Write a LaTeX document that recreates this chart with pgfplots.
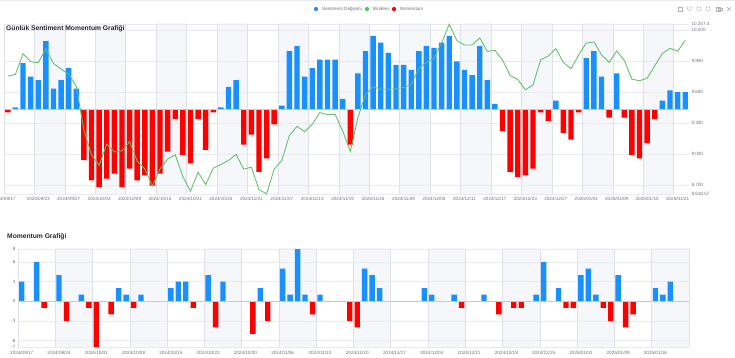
\documentclass[border=0pt]{standalone}
\usepackage{fontspec}
\setmainfont{Liberation Sans}
\usepackage{pgfplots}
\pgfplotsset{compat=1.18}
\definecolor{sblue}{HTML}{1890FF}
\definecolor{sred}{HTML}{FF0000}
\definecolor{sgreen}{HTML}{5FBF6A}
\definecolor{gridc}{HTML}{E8EAF0}
\definecolor{vgrid}{HTML}{DFE1E8}
\definecolor{band}{HTML}{F5F7FB}
\definecolor{tickc}{HTML}{6E7079}
\definecolor{axisc}{HTML}{C8CAD0}
\pgfplotsset{
  base/.style={scale only axis, clip=true, axis line style={draw=none}, tick style={draw=none},
    scaled y ticks=false,
    /pgf/number format/assume math mode=true,
    tick label style={font=\fontsize{4.6}{5}\selectfont, text=tickc}},
  sbar/.style={ybar, bar shift=0pt, bar width=5.4pt, draw=none, fill=#1},
}
\begin{document}
\begin{tikzpicture}
\path[use as bounding box] (0,0) rectangle (735pt,357pt);
\draw[gridc, line width=0.6pt] (0,356.7pt) -- (735pt,356.7pt);
% ---------- top chart: bands
\begin{axis}[base, at={(4pt,163pt)}, width=685pt, height=170pt, xmin=-0.5, xmax=89.5, ymin=-50, ymax=50, hide axis]
\addplot[ybar interval, fill=band, draw=none] coordinates {
(3.5,100)(7.5,0)(11.5,100)(15.5,0)(19.5,100)(23.5,0)(27.5,100)(31.5,0)(35.5,100)(39.5,0)(43.5,100)(47.5,0)(51.5,100)(55.5,0)(59.5,100)(63.5,0)(67.5,100)(71.5,0)(75.5,100)(79.5,0)(83.5,100)(87.5,0)(89.5,0)};
\addplot[ybar interval, fill=band, draw=none] coordinates {
(3.5,-100)(7.5,0)(11.5,-100)(15.5,0)(19.5,-100)(23.5,0)(27.5,-100)(31.5,0)(35.5,-100)(39.5,0)(43.5,-100)(47.5,0)(51.5,-100)(55.5,0)(59.5,-100)(63.5,0)(67.5,-100)(71.5,0)(75.5,-100)(79.5,0)(83.5,-100)(87.5,0)(89.5,0)};
\end{axis}
% ---------- top chart: index axis (right)
\begin{axis}[base, at={(4pt,163pt)}, width=685pt, height=170pt, xmin=-0.5, xmax=89.5, ymin=8618.57, ymax=10257.3,
  axis y line*=right, axis x line=none,
  ytick={8618.57,8700,9000,9300,9600,9900,10200,10257.3},
  yticklabels={{8,618.57},{8,700},{9,000},{9,300},{9,600},{9,900},{10,200},{10,257.3}},
  ymajorgrids, grid style={gridc, line width=0.5pt},
  yticklabel style={anchor=west, xshift=-1pt}]
\addplot[draw=none, forget plot] coordinates {(0,9000)};
\end{axis}
% ---------- top chart: sentiment bars
\begin{axis}[base, at={(4pt,163pt)}, width=685pt, height=170pt, xmin=-0.5, xmax=89.5, ymin=-50, ymax=50,
  axis y line=none, axis x line*=bottom,
  ytick={-40,-20,0,20,40}, ymajorgrids, grid style={gridc, line width=0.5pt},
  xtick={0,4,...,88},
  xticklabels={4/09/17,2024/09/23,2024/09/27,2024/10/03,2024/10/09,2024/10/15,2024/10/21,2024/10/25,2024/11/01,2024/11/07,2024/11/13,2024/11/19,2024/11/25,2024/11/29,2024/12/05,2024/12/11,2024/12/17,2024/12/23,2024/12/27,2025/01/03,2025/01/09,2025/01/15,2025/01/21},
  extra x ticks={-0.5,3.5,7.5,...,87.5},
  extra x tick labels={},
  extra x tick style={xmajorgrids, grid style={vgrid, line width=0.6pt}},
  xticklabel style={yshift=0pt}]
\addplot[sbar=sblue] coordinates {(1,1)(2,27)(3,19)(4,17)(5,40)(6,12)(7,17)(8,24)(9,12)
(28,1)(29,13)(30,17)(36,2)(37,34)(38,37)(39,19)(40,24)(41,29)(42,29)(43,29)(44,6)
(46,21)(47,34)(48,43)(49,39)(50,33)(51,26)(52,26)(53,23)(54,34)(55,37)(56,36)(57,39)(58,43)(59,28)(60,23)(61,20)(62,37)(63,17)(64,3)
(72,5)(76,30)(77,34)(78,19)(80,21)(86,5)(87,11)(88,10)(89,10)};
\addplot[sbar=sred] coordinates {(0,-2)(10,-30)(11,-42)(12,-46)(13,-41)(14,-38)(15,-46)(16,-35)(17,-42)(18,-39)(19,-45)(20,-38)(21,-25)(22,-6)(23,-27)(24,-32)(25,-6)(26,-24)(27,-2)
(31,-21)(32,-15)(33,-37)(34,-29)(35,-9)(45,-21)
(65,-13)(66,-37)(67,-40)(68,-39)(69,-35)(70,-2)(71,-7)(73,-14)(74,-18)(75,-2)(79,-5)(81,-5)(82,-27)(83,-29)(84,-20)(85,-6)};
\draw[axisc, line width=0.6pt] (axis cs:-0.5,0) -- (axis cs:89.5,0);
\end{axis}
% ---------- top chart: index line
\begin{axis}[base, at={(4pt,163pt)}, width=685pt, height=170pt, xmin=-0.5, xmax=89.5, ymin=8618.57, ymax=10257.3, hide axis, clip=false]
\addplot[sgreen, line width=0.85pt] coordinates {
(0,9755)(1,9771)(2,9971)(3,9894)(4,9884)(5,10019)(6,9877)(7,9823)(8,9774)(9,9658)
(10,9232)(11,8997)(12,8894)(13,9100)(14,9023)(15,9035)(16,9123)(17,8935)(18,8861)(19,8697)
(20,8861)(21,8955)(22,8997)(23,8787)(24,8645)(25,8829)(26,8710)(27,8868)(28,8903)(29,8942)
(30,9000)(31,8858)(32,8877)(33,8661)(34,8620)(35,8858)(36,8942)(37,9184)(38,9271)(39,9219)
(40,9290)(41,9403)(42,9384)(43,9387)(44,9226)(45,9029)(46,9355)(47,9577)(48,9652)(49,9629)
(50,9629)(51,9632)(52,9645)(53,9671)(54,9829)(55,9887)(56,9926)(57,10077)(58,10255)(59,10097)
(60,10055)(61,10055)(62,10123)(63,9994)(64,10003)(65,9910)(66,9761)(67,9723)(68,9623)(69,9668)
(70,9913)(71,9948)(72,10019)(73,9887)(74,9826)(75,9958)(76,10074)(77,10084)(78,9961)(79,9887)
(80,9997)(81,9906)(82,9726)(83,9710)(84,9735)(85,9855)(86,9974)(87,10023)(88,9994)(89,10100)};
\end{axis}
% ---------- bottom chart: bands
\begin{axis}[base, at={(18pt,10pt)}, width=671pt, height=98pt, xmin=-0.5, xmax=89.5, ymin=-7, ymax=8, hide axis]
\addplot[ybar interval, fill=band, draw=none] coordinates {
(4.5,100)(9.5,0)(14.5,100)(19.5,0)(24.5,100)(29.5,0)(34.5,100)(39.5,0)(44.5,100)(49.5,0)(54.5,100)(59.5,0)(64.5,100)(69.5,0)(74.5,100)(79.5,0)(84.5,100)(89.5,0)};
\addplot[ybar interval, fill=band, draw=none] coordinates {
(4.5,-100)(9.5,0)(14.5,-100)(19.5,0)(24.5,-100)(29.5,0)(34.5,-100)(39.5,0)(44.5,-100)(49.5,0)(54.5,-100)(59.5,0)(64.5,-100)(69.5,0)(74.5,-100)(79.5,0)(84.5,-100)(89.5,0)};
\end{axis}
% ---------- bottom chart: bars
\begin{axis}[base, at={(18pt,10pt)}, width=671pt, height=98pt, xmin=-0.5, xmax=89.5, ymin=-7, ymax=8,
  axis y line*=left, axis x line*=bottom,
  ytick={-7,-6,-3,0,3,6,8}, ymajorgrids, grid style={gridc, line width=0.5pt},
  yticklabel style={xshift=1pt},
  xtick={0,5,...,85},
  xticklabels={2024/09/17,2024/09/24,2024/10/01,2024/10/08,2024/10/15,2024/10/22,2024/10/30,2024/11/06,2024/11/13,2024/11/20,2024/11/27,2024/12/04,2024/12/11,2024/12/18,2024/12/25,2025/01/02,2025/01/09,2025/01/16},
  extra x ticks={-0.5,4.5,9.5,...,89.5},
  extra x tick labels={},
  extra x tick style={xmajorgrids, grid style={vgrid, line width=0.6pt}},
  xticklabel style={yshift=-1pt}]
\addplot[sbar=sblue] coordinates {(0,3)(2,6)(5,4)(8,1)(13,2)(14,1)(16,1)(20,2)(21,3)(22,3)(25,4)(27,3)(32,2)(35,5)(36,1)(37,8)(38,1)(40,1)(46,5)(47,4)(48,2)(54,2)(55,1)(58,1)(62,1)(69,1)(70,6)(72,2)(75,4)(76,5)(77,1)(80,4)(85,2)(86,1)(87,3)};
\addplot[sbar=sred] coordinates {(3,-1)(6,-3)(9,-1)(10,-7)(12,-2)(15,-1)(23,-1)(26,-4)(31,-5)(33,-3)(39,-2)(44,-3)(45,-4)(59,-1)(64,-2)(66,-1)(67,-1)(73,-1)(74,-1)(78,-1)(79,-3)(81,-4)(82,-2)};
\draw[axisc, line width=0.6pt] (axis cs:-0.5,0) -- (axis cs:89.5,0);
\end{axis}
% ---------- titles
\node[anchor=west, inner sep=0pt, text=black!85, font=\fontsize{6.7}{8}\bfseries\selectfont] at (6pt,328pt) {Günlük Sentiment Momentum Grafiği};
\node[anchor=west, inner sep=0pt, text=black!85, font=\fontsize{6.7}{8}\bfseries\selectfont] at (7pt,120pt) {Momentum Grafiği};
% ---------- legend
\fill[sblue] (316pt,348pt) circle (2.1pt);
\node[anchor=west, inner sep=0pt, text=tickc, font=\fontsize{4.6}{5}\selectfont] at (322pt,348pt) {Sentiment Değişimi};
\fill[sgreen!70!green] (367pt,348pt) circle (2.1pt);
\node[anchor=west, inner sep=0pt, text=tickc, font=\fontsize{4.6}{5}\selectfont] at (373pt,348pt) {Bindeks};
\fill[sred] (394pt,348pt) circle (2.1pt);
\node[anchor=west, inner sep=0pt, text=tickc, font=\fontsize{4.6}{5}\selectfont] at (400pt,348pt) {Momentum};
% ---------- toolbox icons
\begin{scope}[draw=black!30, line width=0.4pt]
\draw (678pt,346pt) rectangle (682pt,350pt);
\draw (687pt,350pt) -- (692pt,350pt) -- (690pt,346pt) -- (688pt,347pt) -- cycle;
\draw (699pt,348pt) circle (2.2pt);
\draw (708pt,348pt) circle (2.2pt);
\draw (716pt,346pt) rectangle (720pt,350pt);
\draw (718pt,347pt) rectangle (722pt,349pt);
\draw (727pt,346pt) -- (731pt,350pt) (727pt,350pt) -- (731pt,346pt);
\end{scope}
\end{tikzpicture}
\end{document}
